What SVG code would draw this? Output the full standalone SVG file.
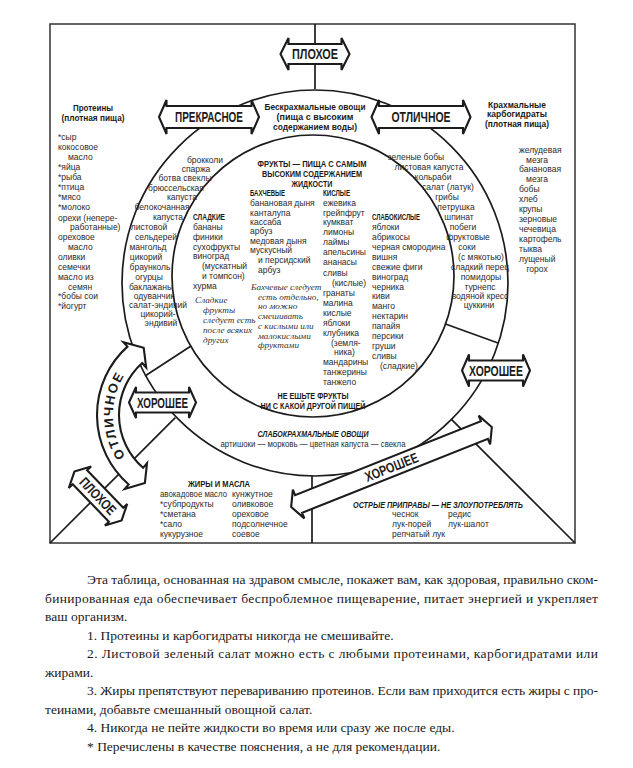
<svg xmlns="http://www.w3.org/2000/svg" width="633" height="768" viewBox="0 0 633 768">
<style>
.ln{fill:none;stroke:#1c1c1c;stroke-width:1.7}
.fr{fill:none;stroke:#333;stroke-width:1.5}
.arw{fill:#fff;stroke:#1c1c1c;stroke-width:2.1;stroke-linejoin:miter}
.lbl{font-family:"Liberation Sans",Arial,sans-serif;font-weight:bold;font-size:14px;fill:#1c1c1c;text-anchor:middle}
.t{font-family:"Liberation Sans",Arial,sans-serif;font-size:8.5px;fill:#2a2a2a}
.c{text-anchor:middle}
.h{font-family:"Liberation Sans",Arial,sans-serif;font-weight:bold;font-size:9.6px;fill:#1a1a1a}
.hi{font-style:italic}
.n{font-family:"Liberation Serif","Times New Roman",serif;font-style:italic;font-size:9.2px;fill:#333}
.p{font-family:"Liberation Serif","Times New Roman",serif;font-size:13.5px;fill:#1a1a1a}
</style>
<defs>
<path id="arcOt" d="M139.14,472.36 A76,76 0 0 1 138.15,358.52"/>
</defs>

<rect id="frame" x="50" y="24" width="525" height="519" class="fr"/>

<g id="connectors">
<path class="ln" d="M315,24 V89"/>
<path class="ln" d="M145,376 L191,346"/>
<path class="ln" d="M445.5,324 L498,343"/>
<path class="ln" d="M50,543 L175.3,417.7"/>
<path class="ln" d="M312,476 V543"/>
<path class="ln" d="M575,543 L451.2,419.2"/>
</g>

<g id="vegetable-ring">
<circle class="ln" cx="315" cy="283" r="193"/>
</g>
<g id="fruit-circle">
<circle class="ln" cx="313" cy="276" r="141"/>
</g>

<g id="arrow-bad-top">
<polygon class="arw" transform="translate(315,54)" points="-34.5,0 -26.5,-16 -26.5,-10 26.5,-10 26.5,-16 34.5,0 26.5,16 26.5,10 -26.5,10 -26.5,16"/>
<text class="lbl" x="315" y="59" textLength="46" lengthAdjust="spacingAndGlyphs">ПЛОХОЕ</text>
</g>
<g id="arrow-superb">
<polygon class="arw" transform="translate(209,117)" points="-50,0 -42.5,-17 -42.5,-11 42.5,-11 42.5,-17 50,0 42.5,17 42.5,11 -42.5,11 -42.5,17"/>
<text class="lbl" x="209" y="122" textLength="68" lengthAdjust="spacingAndGlyphs">ПРЕКРАСНОЕ</text>
</g>
<g id="arrow-excellent-top">
<polygon class="arw" transform="translate(421,117)" points="-49.5,0 -42,-17 -42,-11 42,-11 42,-17 49.5,0 42,17 42,11 -42,11 -42,17"/>
<text class="lbl" x="421" y="122" textLength="59" lengthAdjust="spacingAndGlyphs">ОТЛИЧНОЕ</text>
</g>
<g id="arrow-excellent-left">
<path class="arw" d="M144.89,482.93 L124.70,488.96 L128.64,484.43 A92,92 0 0 1 127.44,346.63 L123.43,342.18 L143.70,347.85 L146.18,367.44 L142.16,362.98 A70,70 0 0 0 143.07,467.83 L147.01,463.30 Z"/>
<text class="lbl" style="font-size:13px;letter-spacing:1.6px"><textPath href="#arcOt" startOffset="50%">ОТЛИЧНОЕ</textPath></text>
</g>
<g id="arrow-good-left">
<polygon class="arw" transform="translate(162.5,402.5)" points="-33.5,0 -26.5,-15.5 -26.5,-10 26.5,-10 26.5,-15.5 33.5,0 26.5,15.5 26.5,10 -26.5,10 -26.5,15.5"/>
<text class="lbl" x="162.5" y="407.5" textLength="51" lengthAdjust="spacingAndGlyphs">ХОРОШЕЕ</text>
</g>
<g id="arrow-good-right">
<polygon class="arw" transform="translate(496,370.5)" points="-34,0 -27,-16 -27,-10 27,-10 27,-16 34,0 27,16 27,10 -27,10 -27,16"/>
<text class="lbl" x="496" y="375.5" textLength="54" lengthAdjust="spacingAndGlyphs">ХОРОШЕЕ</text>
</g>
<g id="arrow-bad-diag" transform="translate(98,496) rotate(46)">
<polygon class="arw" points="-34,0 -26,-15.5 -26,-10 26,-10 26,-15.5 34,0 26,15.5 26,10 -26,10 -26,15.5"/>
<text class="lbl" x="0" y="5" textLength="46" lengthAdjust="spacingAndGlyphs">ПЛОХОЕ</text>
</g>
<g id="arrow-good-diag" transform="translate(391.5,467) rotate(-21.7)">
<polygon class="arw" points="-108,0 -100,-15.5 -100,-9.5 100,-9.5 100,-15.5 108,0 100,15.5 100,9.5 -100,9.5 -100,15.5"/>
<text class="lbl" x="0" y="5" textLength="56" lengthAdjust="spacingAndGlyphs">ХОРОШЕЕ</text>
</g>

<g id="proteins">
<text class="h c" x="93" y="110.5" textLength="40" lengthAdjust="spacingAndGlyphs">Протеины</text>
<text class="h c" x="93" y="121" textLength="63" lengthAdjust="spacingAndGlyphs">(плотная пища)</text>
<g class="t">
<text x="58" y="140">*сыр</text>
<text x="58" y="150">кокосовое</text>
<text x="68" y="160">масло</text>
<text x="58" y="170">*яйца</text>
<text x="58" y="180">*рыба</text>
<text x="58" y="190">*птица</text>
<text x="58" y="200">*мясо</text>
<text x="58" y="210">*молоко</text>
<text x="58" y="221">орехи (непере-</text>
<text x="70" y="230">работанные)</text>
<text x="58" y="240">ореховое</text>
<text x="68" y="250">масло</text>
<text x="58" y="260">оливки</text>
<text x="58" y="270">семечки</text>
<text x="58" y="280">масло из</text>
<text x="68" y="290">семян</text>
<text x="58" y="299">*бобы сои</text>
<text x="58" y="309">*йогурт</text>
</g>
</g>

<g id="starches">
<text class="h c" x="517" y="107.5" textLength="58" lengthAdjust="spacingAndGlyphs">Крахмальные</text>
<text class="h c" x="517" y="117" textLength="60" lengthAdjust="spacingAndGlyphs">карбогидраты</text>
<text class="h c" x="517" y="126.5" textLength="64" lengthAdjust="spacingAndGlyphs">(плотная пища)</text>
<g class="t">
<text x="519" y="153">желудевая</text>
<text class="c" x="537" y="163">мезга</text>
<text x="519" y="172">банановая</text>
<text class="c" x="537" y="182">мезга</text>
<text x="519" y="192">бобы</text>
<text x="519" y="202">хлеб</text>
<text x="519" y="212">крупы</text>
<text x="519" y="222">зерновые</text>
<text x="519" y="232">чечевица</text>
<text x="519" y="242">картофель</text>
<text x="519" y="252">тыква</text>
<text x="519" y="262">лущеный</text>
<text class="c" x="537" y="272">горох</text>
</g>
</g>

<g id="non-starchy-vegetables">
<text class="h c" x="315" y="109.5" textLength="101" lengthAdjust="spacingAndGlyphs">Бескрахмальные овощи</text>
<text class="h c" x="315" y="119.5" textLength="77" lengthAdjust="spacingAndGlyphs">(пища с высоким</text>
<text class="h c" x="315" y="129.5" textLength="84" lengthAdjust="spacingAndGlyphs">содержанием воды)</text>
<g class="t c">
<text x="205" y="163">брокколи</text>
<text x="196" y="172">спаржа</text>
<text x="185" y="181">ботва свеклы</text>
<text x="176" y="191">брюссельская</text>
<text x="182" y="200">капуста</text>
<text x="162" y="210">белокочанная</text>
<text x="168" y="220">капуста</text>
<text x="149" y="230">листовой</text>
<text x="156" y="240">сельдерей</text>
<text x="148" y="250">мангольд</text>
<text x="146" y="260">цикорий</text>
<text x="150" y="270">браунколь</text>
<text x="149" y="280">огурцы</text>
<text x="151" y="290">баклажаны</text>
<text x="154" y="299">одуванчик</text>
<text x="158" y="308">салат-эндивий</text>
<text x="158" y="317">цикорий-</text>
<text x="161" y="326">эндивий</text>

<text x="416" y="160">зеленые бобы</text>
<text x="429" y="170">листовая капуста</text>
<text x="433" y="180">кольраби</text>
<text x="448" y="190">салат (латук)</text>
<text x="447" y="200">грибы</text>
<text x="456" y="210">петрушка</text>
<text x="459" y="220">шпинат</text>
<text x="463" y="230">побеги</text>
<text x="468" y="240">фруктовые</text>
<text x="467" y="250">соки</text>
<text x="481" y="260">(с мякотью)</text>
<text x="480" y="270">сладкий перец</text>
<text x="481" y="280">помидоры</text>
<text x="480" y="290">турнепс</text>
<text x="480" y="299">водяной кресс</text>
<text x="479" y="308">цуккини</text>
</g>
</g>

<g id="fruits">
<text class="h c" x="312" y="166.5" textLength="109" lengthAdjust="spacingAndGlyphs">ФРУКТЫ — ПИЩА С САМЫМ</text>
<text class="h c" x="312" y="176.5" textLength="100" lengthAdjust="spacingAndGlyphs">ВЫСОКИМ СОДЕРЖАНИЕМ</text>
<text class="h c" x="312" y="186.5" textLength="41" lengthAdjust="spacingAndGlyphs">ЖИДКОСТИ</text>

<text class="h" x="193" y="220" textLength="32" lengthAdjust="spacingAndGlyphs" style="font-size:8.8px">СЛАДКИЕ</text>
<g class="t">
<text x="193" y="230">бананы</text>
<text x="193" y="240">финики</text>
<text x="193" y="250">сухофрукты</text>
<text x="193" y="259">виноград</text>
<text x="202" y="269">(мускатный</text>
<text x="202" y="279">и томпсон)</text>
<text x="193" y="289">хурма</text>
</g>
<g class="n">
<text x="195" y="303">Сладкие</text>
<text x="203" y="313">фрукты</text>
<text x="203" y="323">следует есть</text>
<text x="203" y="333">после всяких</text>
<text x="203" y="343">других</text>
</g>

<text class="h" x="250" y="196" textLength="35" lengthAdjust="spacingAndGlyphs" style="font-size:8.8px">БАХЧЕВЫЕ</text>
<g class="t">
<text x="250" y="206">банановая дыня</text>
<text x="250" y="216">канталупа</text>
<text x="250" y="225">кассаба</text>
<text x="250" y="234">арбуз</text>
<text x="250" y="244">медовая дыня</text>
<text x="250" y="253">мускусный</text>
<text x="258" y="263">и персидский</text>
<text x="258" y="273">арбуз</text>
</g>
<g class="n">
<text x="251" y="290">Бахчевые следует</text>
<text x="258" y="300">есть отдельно,</text>
<text x="258" y="309">но можно</text>
<text x="258" y="319">смешивать</text>
<text x="258" y="329">с кислыми или</text>
<text x="258" y="339">малокислыми</text>
<text x="258" y="348">фруктами</text>
</g>

<text class="h" x="323" y="196" textLength="27" lengthAdjust="spacingAndGlyphs" style="font-size:8.8px">КИСЛЫЕ</text>
<g class="t">
<text x="323" y="206">ежевика</text>
<text x="323" y="216">грейпфрут</text>
<text x="323" y="225">кумкват</text>
<text x="323" y="235">лимоны</text>
<text x="323" y="245">лаймы</text>
<text x="323" y="255">апельсины</text>
<text x="323" y="265">ананасы</text>
<text x="323" y="276">сливы</text>
<text x="332" y="286">(кислые)</text>
<text x="323" y="296">гранаты</text>
<text x="323" y="306">малина</text>
<text x="323" y="316">кислые</text>
<text x="323" y="326">яблоки</text>
<text x="323" y="336">клубника</text>
<text x="331" y="346">(земля-</text>
<text x="334" y="355">ника)</text>
<text x="323" y="365">мандарины</text>
<text x="323" y="375">танжерины</text>
<text x="323" y="385">танжело</text>
</g>

<text class="h" x="372" y="220" textLength="48" lengthAdjust="spacingAndGlyphs" style="font-size:8.8px">СЛАБОКИСЛЫЕ</text>
<g class="t">
<text x="372" y="230">яблоки</text>
<text x="372" y="240">абрикосы</text>
<text x="372" y="250">черная смородина</text>
<text x="372" y="260">вишня</text>
<text x="372" y="270">свежие фиги</text>
<text x="372" y="280">виноград</text>
<text x="372" y="290">черника</text>
<text x="372" y="299">киви</text>
<text x="372" y="309">манго</text>
<text x="372" y="319">нектарин</text>
<text x="372" y="329">папайя</text>
<text x="372" y="339">персики</text>
<text x="372" y="349">груши</text>
<text x="372" y="359">сливы</text>
<text x="380" y="369">(сладкие)</text>
</g>

<text class="h c" x="313" y="398.5" textLength="71" lengthAdjust="spacingAndGlyphs">НЕ ЕШЬТЕ ФРУКТЫ</text>
<text class="h c" x="313" y="408.5" textLength="105" lengthAdjust="spacingAndGlyphs">НИ С КАКОЙ ДРУГОЙ ПИЩЕЙ</text>
</g>

<g id="low-starch-vegetables">
<text class="h hi c" x="313" y="436.5" textLength="111" lengthAdjust="spacingAndGlyphs">СЛАБОКРАХМАЛЬНЫЕ ОВОЩИ</text>
<text class="t c" x="313" y="446.5" textLength="185" lengthAdjust="spacingAndGlyphs">артишоки — морковь — цветная капуста — свекла</text>
</g>

<g id="fats">
<text class="h c" x="219" y="486.5" textLength="62" lengthAdjust="spacingAndGlyphs">ЖИРЫ И МАСЛА</text>
<g class="t">
<text x="160" y="497" textLength="67" lengthAdjust="spacingAndGlyphs">авокадовое масло</text>
<text x="160" y="507">*субпродукты</text>
<text x="160" y="517">*сметана</text>
<text x="160" y="527">*сало</text>
<text x="160" y="537">кукурузное</text>
<text x="232" y="497">кунжутное</text>
<text x="232" y="507">оливковое</text>
<text x="232" y="517">ореховое</text>
<text x="232" y="527">подсолнечное</text>
<text x="232" y="537">соевое</text>
</g>
</g>

<g id="spices">
<text class="h hi c" x="438" y="508" textLength="170" lengthAdjust="spacingAndGlyphs">ОСТРЫЕ ПРИПРАВЫ — НЕ ЗЛОУПОТРЕБЛЯТЬ</text>
<g class="t">
<text x="392" y="517">чеснок</text>
<text x="392" y="527">лук-порей</text>
<text x="392" y="537">репчатый лук</text>
<text x="448" y="517">редис</text>
<text x="448" y="527">лук-шалот</text>
</g>
</g>

<g id="caption" class="p">
<text x="87" y="584" textLength="511" lengthAdjust="spacing">Эта таблица, основанная на здравом смысле, покажет вам, как здоровая, правильно ском-</text>
<text x="45" y="602.5" textLength="553" lengthAdjust="spacing">бинированная еда обеспечивает беспроблемное пищеварение, питает энергией и укрепляет</text>
<text x="45" y="621">ваш организм.</text>
<text x="87" y="639.5">1. Протеины и карбогидраты никогда не смешивайте.</text>
<text x="87" y="658" textLength="511" lengthAdjust="spacing">2. Листовой зеленый салат можно есть с любыми протеинами, карбогидратами или</text>
<text x="45" y="676.5">жирами.</text>
<text x="87" y="695" textLength="511" lengthAdjust="spacing">3. Жиры препятствуют перевариванию протеинов. Если вам приходится есть жиры с про-</text>
<text x="45" y="713.5">теинами, добавьте смешанный овощной салат.</text>
<text x="87" y="732">4. Никогда не пейте жидкости во время или сразу же после еды.</text>
<text x="87" y="750.5">* Перечислены в качестве пояснения, а не для рекомендации.</text>
</g>
</svg>
